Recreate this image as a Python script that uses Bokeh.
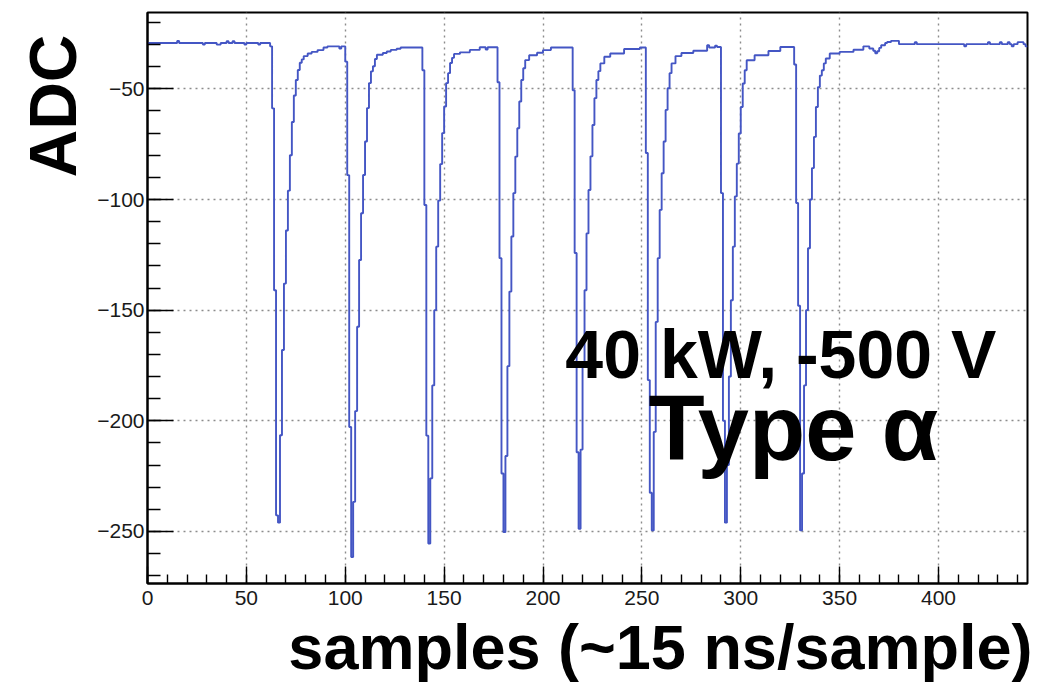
import math
from bokeh.plotting import figure
from bokeh.models import Range1d, FixedTicker, Label, Title, CustomJSTickFormatter
from bokeh.embed import file_html
from bokeh.resources import INLINE

# ---- data (step edges: sample index, ADC value held until next edge) ----
lead_x = [0, 15, 16, 28, 29, 35, 37, 40, 41, 43, 44, 49, 50, 56, 57, 62]
lead_y = [-29.3, -28.4, -29.3, -30.0, -29.3, -30.0, -29.3, -28.5, -29.3, -28.5, -29.3, -30.0, -29.3, -30.0, -29.3, -30.8]

p1_x = [63, 64, 65, 66, 67, 68, 69, 70, 71, 72, 73, 74, 75, 76, 77, 78, 79, 81, 83, 86, 89, 91, 97, 98]
p1_y = [-58.8, -141, -242.7, -246, -206.5, -168, -138, -114, -96, -80, -65, -53, -46, -41.5, -38.2, -36.7,
        -35.2, -34, -33.3, -32.5, -31.3, -30.8, -31.8, -30.8]

p2_x = [100, 101, 102, 103, 104, 105, 106, 107, 108, 109, 110, 111, 112, 113, 114, 115, 116, 119, 121, 123, 126, 128]
p2_y = [-37.7, -89, -202.8, -261.5, -236.6, -195.6, -157.5, -127.3, -106.2, -88.9, -73.8, -58.7, -47.4, -42.1,
        -39.8, -36.5, -34.6, -33.8, -33.1, -32.4, -31.9, -31.3]

p3_x = [139, 140, 141, 142, 143, 144, 145, 146, 147, 148, 149, 150, 151, 152, 153, 154, 155, 158, 163, 168, 171, 172]
p3_y = [-41.6, -102.5, -206.7, -255.4, -226, -184, -150, -121.3, -100.5, -84, -70, -58, -47.4, -42.9, -38.3, -36,
        -34.2, -33.5, -32.4, -31.2, -32.2, -31.2]

p4_x = [177, 178, 179, 180, 181, 182, 183, 184, 185, 186, 187, 188, 189, 190, 191, 193, 197, 200, 204]
p4_y = [-47, -126.5, -223.8, -250.3, -215.9, -175.3, -141.6, -116.7, -97.1, -80.6, -67.8, -55.7, -46, -40.7, -37,
        -34.8, -33.7, -32.5, -31.3]

p5_x = [215, 216, 217, 218, 219, 220, 221, 222, 223, 224, 225, 226, 227, 228, 229, 231, 234, 241, 249]
p5_y = [-50.6, -124.2, -214.2, -248.8, -213, -173.8, -141, -115.3, -95.7, -80.5, -66.3, -54.2, -46, -42, -38.5,
        -35.5, -34, -32, -31.3]

p6_x = [252, 253, 254, 255, 256, 257, 258, 259, 260, 261, 262, 263, 264, 265, 267, 270, 276, 283, 284, 287, 288]
p6_y = [-79, -181.6, -232.5, -249.5, -205, -155.3, -126.5, -104.7, -88.1, -73.8, -59.5, -49.7, -42.9, -38.5, -35.2,
        -33.8, -32.8, -30.3, -31.3, -30.5, -31.1]

p7_x = [290, 291, 292, 293, 294, 295, 296, 297, 298, 299, 300, 301, 302, 303, 307, 314, 320]
p7_y = [-97.1, -200, -246, -220, -180, -145.5, -121.3, -98.6, -83.8, -70.2, -58.2, -47.6, -41.6, -37.1, -34.8,
        -32.9, -31.1]

p8_x = [327, 328, 329, 330, 331, 332, 333, 334, 335, 336, 337, 338, 339, 340, 341, 342, 343, 345, 350, 357, 362,
        365, 367, 368, 369, 370, 371, 373, 374, 376, 380]
p8_y = [-39, -101.6, -148, -249.5, -223.8, -184, -150, -122, -100, -85.8, -71.7, -58.2, -49.2, -44, -41.6, -38.5,
        -36.3, -34, -33.3, -32.3, -30.8, -31.8, -32.8, -33.9, -33, -31.5, -30.3, -29.3, -28.8, -28.3, -29.8]

tail_x = [388, 389, 413, 414, 425, 426, 431, 432, 435, 436, 437, 438, 440, 443, 444, 445]
tail_y = [-28.9, -29.8, -30.8, -29.8, -28.9, -29.8, -28.9, -29.8, -28.9, -29.8, -30.8, -29.8, -28.9, -29.8, -30.8, -30.8]

x_major = [0, 50, 100, 150, 200, 250, 300, 350, 400]
x_minor = list(range(0, 446, 10))
y_major = [-250, -200, -150, -100, -50]
y_minor = list(range(-270, -15, 10))

x_title = "samples (~15 ns/sample)"
y_title = "ADC"
note1 = "40 kW, -500 V"
note2 = "Type \u03b1"

xs = lead_x + p1_x + p2_x + p3_x + p4_x + p5_x + p6_x + p7_x + p8_x + tail_x
ys = lead_y + p1_y + p2_y + p3_y + p4_y + p5_y + p6_y + p7_y + p8_y + tail_y

FONT = "Liberation Sans"

p = figure(width=1045, height=691, output_backend="svg", toolbar_location=None,
           x_range=Range1d(0, 445), y_range=Range1d(-273.5, -15.5),
           min_border_left=147, min_border_right=18, min_border_top=12, min_border_bottom=108)
p.background_fill_color = "white"
p.border_fill_color = "white"
p.outline_line_color = "black"
p.outline_line_width = 2

p.xaxis.ticker = FixedTicker(ticks=x_major, minor_ticks=x_minor)
p.yaxis.ticker = FixedTicker(ticks=y_major, minor_ticks=y_minor)
p.xgrid.ticker = FixedTicker(ticks=x_major)
p.ygrid.ticker = FixedTicker(ticks=y_major)
for g in (p.xgrid, p.ygrid):
    g.grid_line_color = "#8c8c8c"
    g.grid_line_dash = "2 4"
    g.grid_line_width = 1.4

p.yaxis.formatter = CustomJSTickFormatter(code="return tick < 0 ? '\u2212' + Math.abs(tick) : tick.toString();")

for ax in (p.xaxis, p.yaxis):
    ax.axis_line_color = "black"
    ax.axis_line_width = 2
    ax.major_tick_line_color = "black"
    ax.minor_tick_line_color = "black"
    ax.major_tick_line_width = 1.4
    ax.minor_tick_line_width = 1.4
    ax.major_tick_out = 0
    ax.minor_tick_out = 0
    ax.major_label_text_font = FONT
    ax.major_label_text_font_size = "21px"
    ax.major_label_text_color = "#1a1a1a"

p.xaxis.major_label_standoff = 7
p.yaxis.major_label_standoff = 3
p.xaxis.major_tick_in = 17
p.xaxis.minor_tick_in = 9
p.yaxis.major_tick_in = 26
p.yaxis.minor_tick_in = 13

p.add_layout(Title(text=x_title, align="right", offset=-5, standoff=4,
                   text_font=FONT, text_font_size="63px", text_font_style="bold",
                   text_color="black"), "below")
p.add_layout(Title(text=y_title, align="right", offset=22, standoff=10,
                   text_font=FONT, text_font_size="66px", text_font_style="bold",
                   text_color="black"), "left")

p.step(xs, ys, mode="after", line_color="#4456c4", line_width=1.9)

p.add_layout(Label(x=211.3, y=-169.6, text=note1, text_align="left", text_baseline="alphabetic",
                   text_font=FONT, text_font_size="68px", text_font_style="bold", text_color="black"))
p.add_layout(Label(x=253.3, y=-203.1, text=note2, text_align="left", text_baseline="alphabetic",
                   text_font=FONT, text_font_size="92px", text_font_style="bold", text_color="black"))

open("out.html", "w").write(file_html(p, INLINE))
